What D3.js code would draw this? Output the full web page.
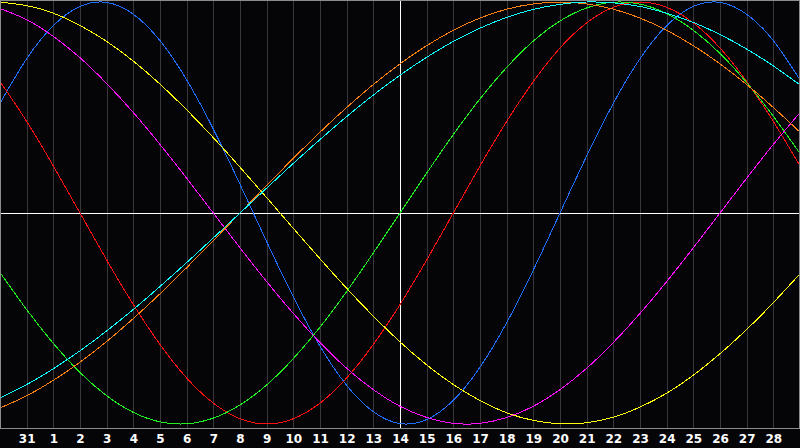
<!DOCTYPE html>
<html>
<head>
<meta charset="utf-8">
<script src="https://cdn.jsdelivr.net/npm/d3@7"></script>
<style>
  html, body { margin: 0; padding: 0; background: #050508; }
  svg { display: block; }
</style>
</head>
<body>
<svg id="chart"></svg>
<script>
// Days shown: index -1 = Jan 30 ... 29 = Mar 1
const days = d3.range(-1, 30);
const tickDays = d3.range(0, 29);
const tickLabels = ["31", "1", "2", "3", "4", "5", "6", "7", "8", "9", "10", "11", "12", "13", "14",
  "15", "16", "17", "18", "19", "20", "21", "22", "23", "24", "25", "26", "27", "28"];

// daily values (-1 .. 1)
const physical = [0.520, 0.731, 0.888, 0.979, 0.998, 0.942, 0.817, 0.631, 0.398, 0.136, -0.136, -0.398, -0.631, -0.817,
  -0.942, -0.998, -0.979, -0.888, -0.731, -0.520, -0.270, 0, 0.270, 0.520, 0.731, 0.888, 0.979, 0.998, 0.942, 0.817, 0.631];
const emotional = [0.623, 0.434, 0.223, 0, -0.223, -0.434, -0.623, -0.782, -0.901, -0.975, -1.000, -0.975, -0.901, -0.782,
  -0.623, -0.434, -0.223, 0, 0.223, 0.434, 0.623, 0.782, 0.901, 0.975, 1.000, 0.975, 0.901, 0.782, 0.623, 0.434, 0.223];
const intellectual = [-0.282, -0.458, -0.618, -0.756, -0.866, -0.945, -0.990, -0.999, -0.972, -0.910, -0.815, -0.690,
  -0.541, -0.372, -0.189, 0, 0.189, 0.372, 0.541, 0.690, 0.815, 0.910, 0.972, 0.999, 0.990, 0.945, 0.866, 0.756, 0.618,
  0.458, 0.282];
const intuitive = [0.969, 0.916, 0.837, 0.736, 0.614, 0.476, 0.325, 0.165, 0, -0.165, -0.325, -0.476, -0.614, -0.736,
  -0.837, -0.916, -0.969, -0.997, -0.997, -0.969, -0.916, -0.837, -0.736, -0.614, -0.476, -0.325, -0.165, 0, 0.165,
  0.325, 0.476];
const aesthetic = [0.999, 0.983, 0.947, 0.889, 0.813, 0.720, 0.611, 0.489, 0.357, 0.217, 0.073, -0.073, -0.217, -0.357,
  -0.489, -0.611, -0.720, -0.813, -0.889, -0.947, -0.983, -0.999, -0.994, -0.968, -0.920, -0.854, -0.769, -0.667,
  -0.552, -0.425, -0.288];
const awareness = [-0.924, -0.866, -0.793, -0.707, -0.609, -0.500, -0.383, -0.259, -0.131, 0, 0.131, 0.259, 0.383,
  0.500, 0.609, 0.707, 0.793, 0.866, 0.924, 0.966, 0.991, 1.000, 0.991, 0.966, 0.924, 0.866, 0.793, 0.707, 0.609,
  0.500, 0.383];
const spiritual = [-0.876, -0.813, -0.738, -0.653, -0.559, -0.457, -0.348, -0.235, -0.118, 0, 0.118, 0.235, 0.348,
  0.457, 0.559, 0.653, 0.738, 0.813, 0.876, 0.927, 0.965, 0.989, 1.000, 0.996, 0.979, 0.947, 0.903, 0.846, 0.777,
  0.697, 0.607];

const series = [
  { values: physical, color: "#1f6fff" },
  { values: emotional, color: "#ff1010" },
  { values: intellectual, color: "#20f020" },
  { values: intuitive, color: "#ff10ff" },
  { values: aesthetic, color: "#ffff10" },
  { values: awareness, color: "#ff8010" },
  { values: spiritual, color: "#10ffff" }
];

const width = 800, height = 448;
const plotH = 428;

const svg = d3.select("#chart").attr("width", width).attr("height", height);

const x = d3.scaleLinear().domain([-1, 29]).range([0, 800]);
const y = d3.scaleLinear().domain([-1, 1]).range([424, 2]);

// vertical day grid
svg.append("g")
  .selectAll("line")
  .data(tickDays)
  .join("line")
  .attr("x1", d => Math.round(x(d)) + 0.5)
  .attr("x2", d => Math.round(x(d)) + 0.5)
  .attr("y1", 0)
  .attr("y2", plotH)
  .attr("stroke", "#38383c")
  .attr("stroke-width", 1);

// zero line
svg.append("line")
  .attr("x1", 0).attr("x2", 800)
  .attr("y1", Math.round(y(0)) + 0.5).attr("y2", Math.round(y(0)) + 0.5)
  .attr("stroke", "#ffffff");

// today line
svg.append("line")
  .attr("x1", Math.round(x(14)) + 0.5).attr("x2", Math.round(x(14)) + 0.5)
  .attr("y1", 0).attr("y2", plotH)
  .attr("stroke", "#ffffff");

const line = d3.line()
  .x((d, i) => x(days[i]))
  .y(d => y(d))
  .curve(d3.curveNatural);

svg.append("g")
  .selectAll("path")
  .data(series)
  .join("path")
  .attr("fill", "none")
  .attr("stroke", d => d.color)
  .attr("stroke-width", 1)
  .attr("shape-rendering", "crispEdges")
  .attr("d", d => line(d.values));

// border
svg.append("rect")
  .attr("x", 0.5).attr("y", 0.5)
  .attr("width", 799).attr("height", plotH)
  .attr("fill", "none")
  .attr("stroke", "#8c8c8c");

// day labels
const axis = d3.axisBottom(x)
  .tickValues(tickDays)
  .tickFormat((d, i) => tickLabels[i])
  .tickSize(0)
  .tickPadding(6);

const gx = svg.append("g")
  .attr("transform", `translate(0,${plotH})`)
  .call(axis);
gx.select(".domain").remove();
gx.selectAll("text")
  .attr("fill", "#ffffff")
  .attr("font-family", "'DejaVu Sans', sans-serif")
  .attr("font-weight", "bold")
  .attr("font-size", 12);
</script>
</body>
</html>
